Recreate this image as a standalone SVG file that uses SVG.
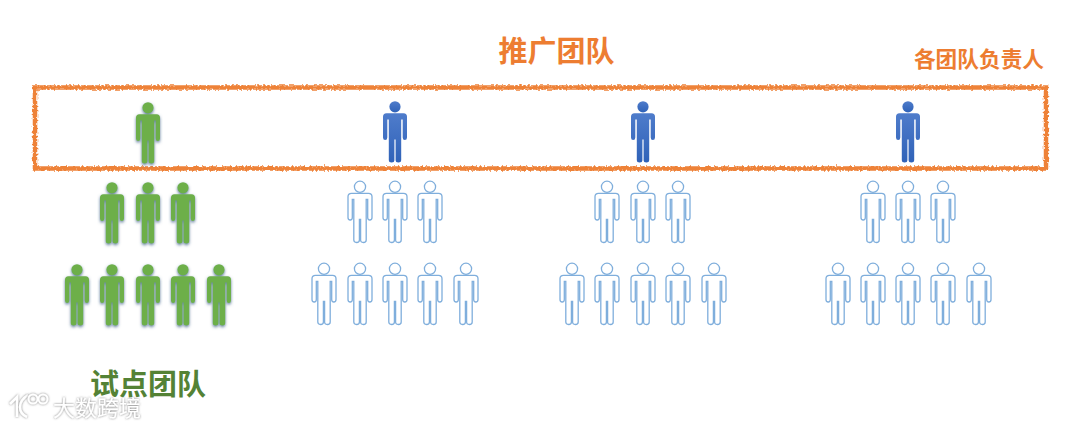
<svg xmlns="http://www.w3.org/2000/svg" xmlns:xlink="http://www.w3.org/1999/xlink" width="1080" height="426" viewBox="0 0 1080 426">
<style>
text{font-family:"Noto Sans CJK SC","Liberation Sans",sans-serif;font-weight:700}
.or{fill:#ED7D31}
.g{fill:#6DAF49;filter:url(#gs)}
.b{fill:url(#bg)}
.o{fill:#fff;stroke:#7FAEDC;stroke-width:1.3}
.wm{fill:#fff;font-weight:400;filter:url(#ws)}
</style>
<defs>
<linearGradient id="bg" x1="0" y1="0" x2="0" y2="1"><stop offset="0" stop-color="#4F7CCB"/><stop offset="1" stop-color="#2F62B8"/></linearGradient>
<filter id="rough" x="-2%" y="-10%" width="104%" height="120%"><feTurbulence type="fractalNoise" baseFrequency="0.5" numOctaves="2" seed="4"/><feDisplacementMap in="SourceGraphic" scale="4.500" xChannelSelector="R" yChannelSelector="G"/><feGaussianBlur stdDeviation="0.35"/></filter>
<filter id="gs" x="-40%" y="-15%" width="180%" height="130%"><feDropShadow dx="0" dy="1.5" stdDeviation="1.5" flood-color="#3d5f86" flood-opacity=".85"/></filter>
<filter id="ws" x="-20%" y="-30%" width="140%" height="160%"><feDropShadow dx="0" dy="0" stdDeviation="1" flood-color="#666" flood-opacity=".9"/></filter>
<g id="p">
<circle cx="0" cy="5.8" r="5.6"/>
<path d="M-8.5 12.3H8.5Q12 12.3 12 15.8V36.5Q12 39 9.8 39Q7.7 39 7.7 36.5V18.5H6.2V59Q6.2 61.5 3.4 61.5Q.6 61.5 .6 59V38.5H-.6V59Q-.6 61.5 -3.4 61.5Q-6.2 61.5 -6.2 59V18.5H-7.7V36.5Q-7.7 39 -9.8 39Q-12 39 -12 36.5V15.8Q-12 12.3 -8.5 12.3Z"/>
</g>
</defs>
<rect width="1080" height="426" fill="#fff"/>

<g id="title"><text x="556.500" y="62" font-size="29" text-anchor="middle" class="or">推广团队</text></g>
<g id="leaders-label"><text x="979" y="67" font-size="21.700" text-anchor="middle" class="or">各团队负责人</text></g>
<g id="leaders-box"><rect x="35" y="87.500" width="1011" height="81" fill="none" stroke="#EE8238" stroke-width="4.500" filter="url(#rough)"/></g>

<g id="pilot-team">
<use href="#p" class="g" x="148" y="102"/>
<use href="#p" class="g" x="112" y="182"/><use href="#p" class="g" x="148" y="182"/><use href="#p" class="g" x="183" y="182"/>
<use href="#p" class="g" x="77" y="264"/><use href="#p" class="g" x="112" y="264"/><use href="#p" class="g" x="148" y="264"/><use href="#p" class="g" x="183" y="264"/><use href="#p" class="g" x="219" y="264"/>
</g>
<g id="team-2">
<use href="#p" class="b" x="395" y="101"/>
<use href="#p" class="o" x="360" y="181"/><use href="#p" class="o" x="395" y="181"/><use href="#p" class="o" x="430" y="181"/>
<use href="#p" class="o" x="324" y="263"/><use href="#p" class="o" x="360" y="263"/><use href="#p" class="o" x="395" y="263"/><use href="#p" class="o" x="430" y="263"/><use href="#p" class="o" x="466" y="263"/>
</g>
<g id="team-3">
<use href="#p" class="b" x="643" y="101"/>
<use href="#p" class="o" x="607" y="181"/><use href="#p" class="o" x="643" y="181"/><use href="#p" class="o" x="678" y="181"/>
<use href="#p" class="o" x="572" y="263"/><use href="#p" class="o" x="607" y="263"/><use href="#p" class="o" x="643" y="263"/><use href="#p" class="o" x="678" y="263"/><use href="#p" class="o" x="714" y="263"/>
</g>
<g id="team-4">
<use href="#p" class="b" x="908" y="101"/>
<use href="#p" class="o" x="873" y="181"/><use href="#p" class="o" x="908" y="181"/><use href="#p" class="o" x="943" y="181"/>
<use href="#p" class="o" x="838" y="263"/><use href="#p" class="o" x="873" y="263"/><use href="#p" class="o" x="908" y="263"/><use href="#p" class="o" x="943" y="263"/><use href="#p" class="o" x="979" y="263"/>
</g>

<g id="pilot-label"><text x="148" y="395" font-size="29" text-anchor="middle" fill="#548235">试点团队</text></g>
<g id="watermark">
<path d="M10 404L17 397V417M28 395Q20 400 20 407Q20 414 27 417" fill="none" stroke="#fff" stroke-width="2.500" filter="url(#ws)"/>
<g fill="none" stroke="#fff" stroke-width="2" filter="url(#ws)"><circle cx="33" cy="399" r="4.500"/><circle cx="43" cy="399" r="4.500"/></g>
<text x="97" y="416" font-size="22" text-anchor="middle" class="wm">大数跨境</text>
</g>
</svg>
